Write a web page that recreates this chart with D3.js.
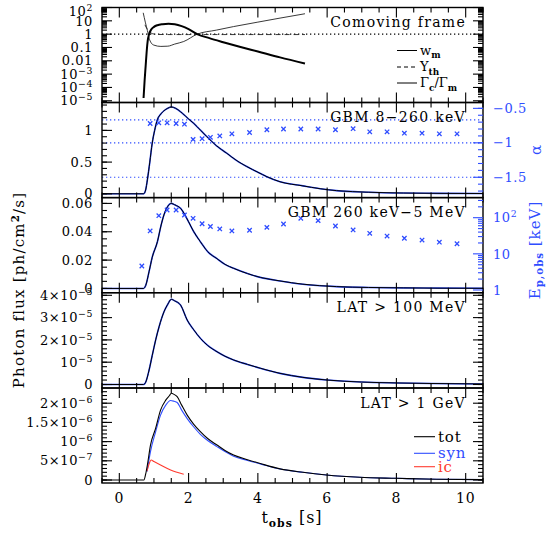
<!DOCTYPE html>
<html lang="en">
<head>
<meta charset="UTF-8">
<title>Comoving frame and light curves</title>
<script src="https://d3js.org/d3.v7.min.js"></script>
<style>
  body { margin: 0; background: #fff; }
  svg text { font-family: "DejaVu Serif", serif; }
  .frame { fill: none; stroke: #000; stroke-width: 1.4; }
</style>
</head>
<body>
<script>
// ---- panel 1: comoving frame quantities
const wmT = [0.70, 0.73, 0.76, 0.79, 0.82, 0.86, 0.92, 1.0, 1.1, 1.25, 1.42, 1.6, 1.8, 2.0, 2.25, 2.6, 3.0, 3.5, 4.0, 4.64, 5.36];
const wmV = [1.6e-5, 3.2e-4, 4e-3, 0.05, 0.32, 1.0, 2.2, 3.5, 4.7, 5.6, 6.0, 5.5, 4.0, 2.4, 1.0, 0.5, 0.25, 0.11, 0.05, 0.018, 0.0063];
const gcT = [0.69, 0.75, 0.81, 0.86, 0.92, 1.0, 1.2, 1.4, 1.6, 1.86, 2.25, 2.8, 3.3, 4.0, 4.64, 5.36];
const gcV = [40, 8, 1.9, 0.5, 0.22, 0.15, 0.12, 0.125, 0.18, 0.28, 1.0, 2.0, 3.7, 8, 16, 34];
const ythT = [0.74, 0.8, 0.88, 0.95, 1.1, 1.5, 2, 3, 4, 5.36];
const ythV = [5, 2.5, 1.5, 1.1, 0.95, 0.93, 0.93, 0.93, 0.93, 0.93];

// ---- panel 2: GBM 8-260 keV flux and alpha
const gbmLoT = [-0.5, 0.70, 0.76, 0.81, 0.88, 0.95, 1.02, 1.1, 1.2, 1.29, 1.4, 1.5, 1.62, 1.82, 2.0, 2.15, 2.35, 2.53, 2.8, 3.1, 3.4, 3.68, 4.0, 4.26, 4.64, 5.3, 5.8, 6.27, 7.2, 8.2, 9.2, 10.5];
const gbmLoF = [0, 0, 0.06, 0.22, 0.5, 0.8, 1.0, 1.17, 1.26, 1.31, 1.35, 1.37, 1.35, 1.27, 1.18, 1.11, 1.0, 0.9, 0.76, 0.64, 0.52, 0.43, 0.34, 0.27, 0.19, 0.125, 0.08, 0.05, 0.025, 0.012, 0.007, 0.004];
const alphaT = [0.89, 1.14, 1.38, 1.64, 1.88, 2.13, 2.39, 2.63, 2.9, 3.25, 3.76, 4.26, 4.74, 5.24, 5.74, 6.24, 6.75, 7.23, 7.73, 8.23, 8.74, 9.24, 9.75];
const alphaV = [-0.72, -0.71, -0.71, -0.72, -0.73, -0.95, -0.94, -0.92, -0.90, -0.87, -0.85, -0.81, -0.80, -0.80, -0.80, -0.81, -0.795, -0.84, -0.84, -0.86, -0.86, -0.87, -0.87];
const alphaRefs = [-2 / 3, -1, -1.5];

// ---- panel 3: GBM 260 keV-5 MeV flux and Ep
const gbmHiT = [-0.5, 0.70, 0.76, 0.86, 0.95, 1.1, 1.2, 1.29, 1.4, 1.5, 1.6, 1.77, 2.0, 2.15, 2.34, 2.55, 2.82, 3.05, 3.3, 3.7, 4.07, 4.64, 5.3, 6.27, 7.2, 8.2, 9.2, 10.5];
const gbmHiF = [0, 0, 0.002, 0.012, 0.022, 0.033, 0.044, 0.052, 0.058, 0.06, 0.059, 0.0565, 0.047, 0.04, 0.033, 0.026, 0.021, 0.017, 0.0142, 0.0105, 0.0078, 0.0053, 0.003, 0.0013, 0.0007, 0.0004, 0.0002, 0.0001];
const epT = [0.65, 0.89, 1.14, 1.38, 1.64, 1.88, 2.13, 2.39, 2.63, 2.9, 3.25, 3.76, 4.26, 4.74, 5.24, 5.74, 6.24, 6.75, 7.23, 7.73, 8.23, 8.74, 9.24, 9.75];
const epV = [4.6, 43, 114, 163, 163, 119, 96, 68, 57, 49, 43, 45, 54, 67, 96, 83, 59, 46, 37, 31, 27, 24, 21, 19];

// ---- panel 4: LAT > 100 MeV
const lat100T = [-0.5, 0.70, 0.76, 0.86, 0.95, 1.05, 1.15, 1.29, 1.4, 1.5, 1.6, 1.77, 1.96, 2.15, 2.34, 2.55, 2.82, 3.05, 3.3, 3.7, 4.07, 4.64, 5.3, 6.0, 7.0, 8.0, 9.0, 10.5];
const lat100F = [0, 0, 0.1e-5, 0.65e-5, 1.3e-5, 2.0e-5, 2.6e-5, 3.26e-5, 3.6e-5, 3.82e-5, 3.75e-5, 3.56e-5, 2.89e-5, 2.45e-5, 2.07e-5, 1.75e-5, 1.47e-5, 1.27e-5, 1.1e-5, 0.9e-5, 0.73e-5, 0.5e-5, 0.32e-5, 0.2e-5, 0.11e-5, 0.07e-5, 0.045e-5, 0.025e-5];

// ---- panel 5: LAT > 1 GeV, total / synchrotron / inverse Compton
const totT = [-0.5, 0.71, 0.76, 0.81, 0.9, 1.05, 1.19, 1.34, 1.45, 1.5, 1.58, 1.67, 1.8, 1.96, 2.15, 2.34, 2.55, 2.82, 3.05, 3.3, 3.7, 4.07, 4.64, 5.3, 5.98, 6.94, 8.0, 9.15, 10.5];
const totV = [0, 0, 0.15e-6, 0.39e-6, 0.91e-6, 1.35e-6, 1.82e-6, 2.08e-6, 2.2e-6, 2.26e-6, 2.23e-6, 2.17e-6, 1.95e-6, 1.69e-6, 1.45e-6, 1.26e-6, 1.08e-6, 0.91e-6, 0.77e-6, 0.65e-6, 0.53e-6, 0.43e-6, 0.29e-6, 0.2e-6, 0.13e-6, 0.07e-6, 0.044e-6, 0.02e-6, 0.01e-6];
const synT = [0.8, 0.9, 1.05, 1.19, 1.34, 1.48, 1.58, 1.67, 1.8, 1.96, 2.15, 2.34, 2.55, 2.82, 3.05, 3.3, 3.7, 4.07, 4.64, 5.3, 5.98, 6.94, 8.0, 9.15, 10.5];
const synV = [0.22e-6, 0.74e-6, 1.26e-6, 1.69e-6, 1.95e-6, 2.07e-6, 2.05e-6, 2.02e-6, 1.82e-6, 1.6e-6, 1.38e-6, 1.19e-6, 1.03e-6, 0.87e-6, 0.74e-6, 0.62e-6, 0.51e-6, 0.42e-6, 0.285e-6, 0.2e-6, 0.13e-6, 0.07e-6, 0.044e-6, 0.02e-6, 0.01e-6];
const icT = [0.8, 0.86, 0.92, 1.0, 1.19, 1.48, 1.86];
const icV = [0.23e-6, 0.42e-6, 0.52e-6, 0.48e-6, 0.39e-6, 0.26e-6, 0.15e-6];

// ---- tick labels
const xTicks = [0, 2, 4, 6, 8, 10];
const p1Ticks = [100, 10, 1, 0.1, 0.01, 1e-3, 1e-4, 1e-5];
const p1Labels = ["10^2", "10", "1", "0.1", "0.01", "10^−3", "10^−4", "10^−5"];
const p2Ticks = [0, 0.5, 1];
const p2Labels = ["0", "0.5", "1"];
const alphaTicks = [-0.5, -1, -1.5];
const alphaLabels = ["−0.5", "−1", "−1.5"];
const p3Ticks = [0, 0.02, 0.04, 0.06];
const p3Labels = ["0", "0.02", "0.04", "0.06"];
const epTicks = [1, 10, 100];
const epLabels = ["1", "10", "10^2"];
const p4Ticks = [0, 1e-5, 2e-5, 3e-5, 4e-5];
const p4Labels = ["0", "10^−5", "2×10^−5", "3×10^−5", "4×10^−5"];
const p5Ticks = [0, 5e-7, 1e-6, 1.5e-6, 2e-6];
const p5Labels = ["0", "5×10^−7", "10^−6", "1.5×10^−6", "2×10^−6"];

const BLUE = '#2f4dff';
const RED = '#ff3b30';

const svg = d3.select('body').append('svg')
    .attr('width', 546)
    .attr('height', 533);

const L = 102, R = 483;
const edges = [7.5, 102.5, 197.6, 292.7, 388, 483];

const x = d3.scaleLinear().domain([-0.5, 10.5]).range([L, R]);
const y1 = d3.scaleLog().domain([Math.pow(10, -5.13), 100]).range([edges[1], edges[0]]);
const y2 = d3.scaleLinear().domain([-0.06, 1.44]).range([edges[2], edges[1]]);
const a2 = d3.scaleLinear().domain([-1.795, -0.415]).range([edges[2], edges[1]]);
const y3 = d3.scaleLinear().domain([-0.003, 0.0641]).range([edges[3], edges[2]]);
const e3 = d3.scaleLog().domain([Math.pow(10, -0.075), Math.pow(10, 2.556)]).range([edges[3], edges[2]]);
const y4 = d3.scaleLinear().domain([-0.157e-5, 4.117e-5]).range([edges[4], edges[3]]);
const y5 = d3.scaleLinear().domain([-0.078e-6, 2.396e-6]).range([edges[5], edges[4]]);

// clip each panel
const defs = svg.append('defs');
for (let i = 0; i < 5; i++) {
    defs.append('clipPath').attr('id', 'clip' + i)
        .append('rect')
        .attr('x', L).attr('y', edges[i])
        .attr('width', R - L).attr('height', edges[i + 1] - edges[i]);
}
const panels = d3.range(5).map(i => svg.append('g').attr('clip-path', 'url(#clip' + i + ')'));

function drawLine(g, ts, vs, ys, color, width, dash) {
    const line = d3.line()
        .x(d => x(d[0]))
        .y(d => ys(d[1]))
        .curve(d3.curveMonotoneX);
    g.append('path')
        .datum(d3.zip(ts, vs))
        .attr('fill', 'none')
        .attr('stroke', color)
        .attr('stroke-width', width)
        .attr('stroke-linejoin', 'round')
        .attr('stroke-dasharray', dash || null)
        .attr('d', line);
}

function drawCrosses(g, ts, vs, ys) {
    const s = 2.2;
    g.selectAll(null)
        .data(d3.zip(ts, vs))
        .enter().append('path')
        .attr('d', d => {
            const cx = x(d[0]), cy = ys(d[1]);
            return `M${cx - s},${cy - s}L${cx + s},${cy + s}M${cx - s},${cy + s}L${cx + s},${cy - s}`;
        })
        .attr('stroke', BLUE)
        .attr('stroke-width', 1.3);
}

function hRef(g, v, ys, color) {
    g.append('line')
        .attr('x1', L).attr('x2', R)
        .attr('y1', ys(v)).attr('y2', ys(v))
        .attr('stroke', color)
        .attr('stroke-width', 1.2)
        .attr('stroke-dasharray', '1.3,2.7');
}

// ---- panel 1
hRef(panels[0], 1, y1, '#000');
drawLine(panels[0], gcT, gcV, y1, '#222', 0.9);
drawLine(panels[0], ythT, ythV, y1, '#222', 0.9, '5,4');
drawLine(panels[0], wmT, wmV, y1, '#000', 2);

// ---- panel 2
alphaRefs.forEach(v => hRef(panels[1], v, a2, BLUE));
drawLine(panels[1], gbmLoT, gbmLoF, y2, BLUE, 1.6);
drawLine(panels[1], gbmLoT, gbmLoF, y2, '#000', 1);
drawCrosses(panels[1], alphaT, alphaV, a2);

// ---- panel 3
drawLine(panels[2], gbmHiT, gbmHiF, y3, BLUE, 1.6);
drawLine(panels[2], gbmHiT, gbmHiF, y3, '#000', 1);
drawCrosses(panels[2], epT, epV, e3);

// ---- panel 4
drawLine(panels[3], lat100T, lat100F, y4, BLUE, 1.6);
drawLine(panels[3], lat100T, lat100F, y4, '#000', 1);

// ---- panel 5
drawLine(panels[4], synT, synV, y5, BLUE, 1.1);
drawLine(panels[4], icT, icV, y5, RED, 1.1);
drawLine(panels[4], totT, totV, y5, '#000', 1.1);

// ---- frames and ticks
const axes = svg.append('g');

function tick(x1, y1_, x2, y2_, color) {
    axes.append('line')
        .attr('x1', x1).attr('y1', y1_).attr('x2', x2).attr('y2', y2_)
        .attr('stroke', color).attr('stroke-width', 1.1);
}

function yTicks(scale, majors, minors, xEdge, dir, color) {
    const [lo, hi] = d3.extent(scale.domain());
    minors.filter(v => v >= lo && v <= hi).forEach(v => tick(xEdge, scale(v), xEdge + dir * 5, scale(v), color));
    majors.filter(v => v >= lo && v <= hi).forEach(v => tick(xEdge, scale(v), xEdge + dir * 10, scale(v), color));
}

function logMinors(n0, n1) {
    const out = [];
    for (let n = n0; n <= n1; n++) for (let k = 2; k <= 9; k++) out.push(k * Math.pow(10, n));
    return out;
}
const stepMinors = (a, b, s) => d3.range(Math.round((b - a) / s) + 1).map(i => a + i * s);

const xMinor = stepMinors(-0.5, 10.5, 0.5);

for (let i = 0; i < 5; i++) {
    axes.append('rect').attr('class', 'frame')
        .attr('x', L).attr('y', edges[i])
        .attr('width', R - L).attr('height', edges[i + 1] - edges[i]);
    xMinor.forEach(v => {
        const len = xTicks.includes(v) ? 10 : 5;
        tick(x(v), edges[i], x(v), edges[i] + len, '#000');
        tick(x(v), edges[i + 1], x(v), edges[i + 1] - len, '#000');
    });
}

const p1Minor = logMinors(-6, 1);
yTicks(y1, p1Ticks, p1Minor, L, 1, '#000');
yTicks(y1, p1Ticks, p1Minor, R, -1, '#000');
const p2Minor = stepMinors(-0.0, 1.4, 0.1);
yTicks(y2, p2Ticks, p2Minor, L, 1, '#000');
yTicks(a2, alphaTicks, stepMinors(-1.7, -0.5, 0.1), R, -1, BLUE);
const p3Minor = stepMinors(0, 0.06, 0.005);
yTicks(y3, p3Ticks, p3Minor, L, 1, '#000');
yTicks(e3, epTicks, logMinors(0, 2), R, -1, BLUE);
const p4Minor = stepMinors(0, 4e-5, 0.2e-5);
yTicks(y4, p4Ticks, p4Minor, L, 1, '#000');
yTicks(y4, p4Ticks, p4Minor, R, -1, '#000');
const p5Minor = stepMinors(0, 2.3e-6, 1e-7);
yTicks(y5, p5Ticks, p5Minor, L, 1, '#000');
yTicks(y5, p5Ticks, p5Minor, R, -1, '#000');

// ---- text
const txt = svg.append('g');

function label(xp, yp, str, anchor, color, size, spacing) {
    const t = txt.append('text')
        .attr('x', xp).attr('y', yp)
        .attr('text-anchor', anchor)
        .attr('fill', color)
        .attr('dy', '0.36em')
        .attr('letter-spacing', spacing == null ? 0.6 : spacing)
        .style('font-size', size + 'px');
    const parts = str.split('^');
    t.append('tspan').text(parts[0]);
    if (parts[1]) t.append('tspan').attr('dy', -5).style('font-size', (size * 0.72) + 'px').text(parts[1]);
    return t;
}

// rich text with subscripts: parts = [[text, 'sub'|'sup'|null], ...]
function rich(xp, yp, parts, opts) {
    const t = txt.append('text')
        .attr('x', xp).attr('y', yp)
        .attr('text-anchor', opts.anchor || 'start')
        .attr('fill', opts.color || '#000')
        .attr('letter-spacing', opts.spacing || 0)
        .attr('transform', opts.rotate ? `rotate(-90,${xp},${yp})` : null)
        .style('font-size', opts.size + 'px');
    let shift = 0;
    parts.forEach(([s, kind]) => {
        const target = kind === 'sub' ? (opts.subShift || 3.5) : kind === 'sup' ? -5 : 0;
        const sp = t.append('tspan').text(s).attr('dy', target - shift);
        if (kind) sp.style('font-size', (opts.size * 0.68) + 'px').style('font-weight', 'bold');
        shift = target;
    });
    return t;
}

const yLabelSets = [
    [y1, p1Ticks, p1Labels], [y2, p2Ticks, p2Labels], [y3, p3Ticks, p3Labels],
    [y4, p4Ticks, p4Labels], [y5, p5Ticks, p5Labels]
];
yLabelSets.forEach(([s, vals, labs]) => {
    // the label at the very top of the figure is nudged down so it stays on the page
    vals.forEach((v, i) => label(L - 9, Math.max(s(v), 11), labs[i], 'end', '#000', 13, 0.6));
});
alphaTicks.forEach((v, i) => label(R + 10, a2(v), alphaLabels[i], 'start', BLUE, 13, 0.6));
epTicks.forEach((v, i) => label(R + 10, e3(v), epLabels[i], 'start', BLUE, 13, 0.6));

xTicks.forEach(v => label(x(v), 498, String(v), 'middle', '#000', 14, 0.8));

// panel titles
const titles = ["Comoving frame", "GBM 8−260 keV", "GBM 260 keV−5 MeV", "LAT > 100 MeV", "LAT > 1 GeV"];
titles.forEach((s, i) => {
    txt.append('text')
        .attr('x', 466).attr('y', edges[i] + 19.5)
        .attr('text-anchor', 'end')
        .attr('letter-spacing', 1.3)
        .style('font-size', '14px')
        .text(s);
});

// panel 1 legend
const leg1 = [
    [50.5, null, [["w", null], ["m", "sub"]]],
    [67, '4,3', [["Y", null], ["th", "sub"]]],
    [83, null, [["Γ", null], ["c", "sub"], ["/Γ", null], ["m", "sub"]]]
];
leg1.forEach(([yy, dash, parts]) => {
    axes.append('line').attr('x1', 397).attr('x2', 417).attr('y1', yy).attr('y2', yy)
        .attr('stroke', '#000').attr('stroke-width', 1).attr('stroke-dasharray', dash);
    rich(420, yy + 4, parts, { size: 13 });
});

// panel 5 legend
const leg5 = [[436.7, '#000', 'tot'], [453.3, BLUE, 'syn'], [466.7, RED, 'ic']];
leg5.forEach(([yy, c, s]) => {
    axes.append('line').attr('x1', 414).attr('x2', 435).attr('y1', yy).attr('y2', yy)
        .attr('stroke', c).attr('stroke-width', 1.1);
    txt.append('text').attr('x', 438).attr('y', yy + 5)
        .attr('fill', c).attr('letter-spacing', 0.8)
        .style('font-size', '15px').text(s);
});

// axis titles
rich(24, 290, [["Photon flux [ph/cm", null], ["2", "sup"], ["/s]", null]],
    { size: 15, anchor: 'middle', rotate: true, spacing: 1.2 });
rich(541, 150, [["α", null]], { size: 15, anchor: 'middle', rotate: true, color: BLUE });
rich(540, 250, [["E", null], ["p,obs", "sub"], [" [keV]", null]],
    { size: 15, anchor: 'middle', rotate: true, color: BLUE, spacing: 1, subShift: 2.5 });
rich(292, 523, [["t", null], ["obs", "sub"], [" [s]", null]], { size: 16, anchor: 'middle', spacing: 1 });
</script>
</body>
</html>
